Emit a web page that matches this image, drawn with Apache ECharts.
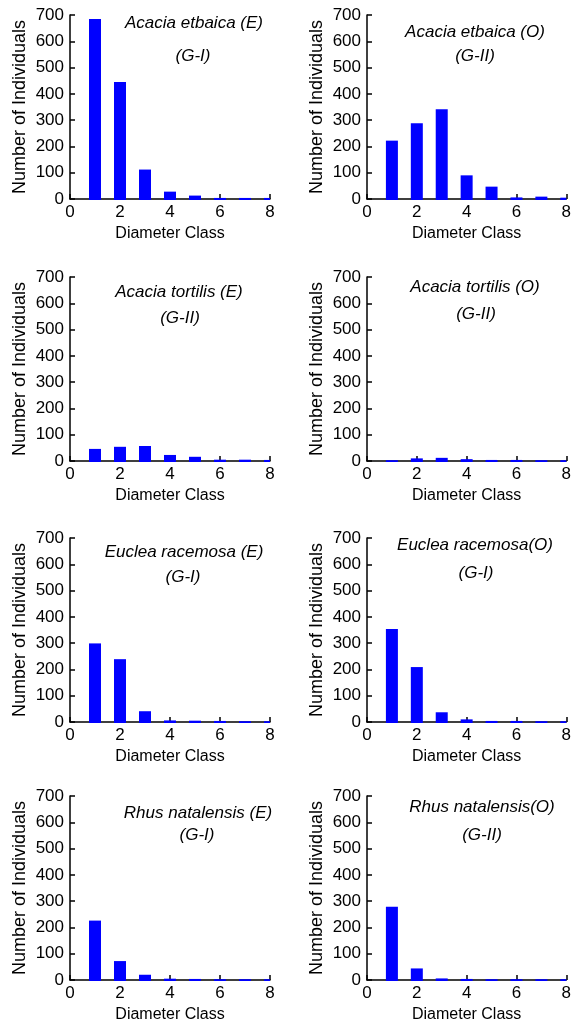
<!DOCTYPE html>
<html>
<head>
<meta charset="utf-8">
<script src="https://cdn.jsdelivr.net/npm/echarts@6/dist/echarts.min.js"></script>
<style>
  html, body { margin: 0; padding: 0; background: #fff; }
  #main { width: 574px; height: 1031px; }
</style>
</head>
<body>
<div id="main"></div>
<script>
// diameter classes (x) and number of individuals per class, one array per panel
var classes = [1, 2, 3, 4, 5, 6, 7, 8];
var etbaicaE = [685, 445, 112, 28, 13, 4, 4, 4];
var etbaicaO = [222, 288, 341, 90, 47, 6, 9, 5];
var tortilisE = [46, 54, 57, 23, 16, 5, 5, 4];
var tortilisO = [3, 10, 12, 7, 4, 4, 3, 3];
var eucleaE = [299, 239, 41, 6, 5, 4, 3, 3];
var eucleaO = [354, 209, 37, 10, 4, 4, 3, 3];
var rhusE = [226, 72, 20, 5, 4, 3, 3, 3];
var rhusO = [279, 44, 6, 4, 3, 3, 3, 3];

var speciesNames = ['Acacia etbaica (E)', 'Acacia etbaica (O)', 'Acacia tortilis (E)', 'Acacia tortilis (O)',
  'Euclea racemosa (E)', 'Euclea racemosa(O)', 'Rhus natalensis (E)', 'Rhus natalensis(O)'];
var groupNames = ['(G-I)', '(G-II)', '(G-II)', '(G-II)', '(G-I)', '(G-I)', '(G-I)', '(G-II)'];
var panelValues = [etbaicaE, etbaicaO, tortilisE, tortilisO, eucleaE, eucleaO, rhusE, rhusO];

var xTicks = [0, 2, 4, 6, 8];
var yMax = 700;

// layout
var colLeft = [70, 367];
var rowTop = [15, 277, 538, 796];
var plotW = 200, plotH = 184;
var barW = 12;
var titlePos = [
  [194, 23, 193, 56], [475, 32, 475, 56],
  [179, 292, 180, 318], [475, 287, 476, 314],
  [184, 552, 183, 577], [475, 545, 476, 573],
  [198, 813, 197, 835], [482, 807, 482, 835]
];

var font = '"Liberation Sans", Arial, sans-serif';
var grids = [], xAxes = [], yAxes = [], series = [], texts = [];

// bars drawn from the axes' scales, clipped to the plot area (class 8 is cut in half)
function renderBar(params, api) {
  var x = api.value(0), y = api.value(1);
  var top = api.coord([x, y]);
  var base = api.coord([x, 0]);
  var cs = params.coordSys;
  var shape = echarts.graphic.clipRectByRect(
    { x: top[0] - barW / 2, y: top[1], width: barW, height: base[1] - top[1] + 1 },
    { x: cs.x, y: cs.y, width: cs.width, height: cs.height + 1 }
  );
  return shape && { type: 'rect', shape: shape, style: { fill: '#0000ff' } };
}

for (var i = 0; i < 8; i++) {
  var c = i % 2, r = Math.floor(i / 2);
  grids.push({ left: colLeft[c], top: rowTop[r], width: plotW, height: plotH });
  xAxes.push({
    gridIndex: i, type: 'value', min: xTicks[0], max: xTicks[xTicks.length - 1], interval: 2,
    name: 'Diameter Class', nameLocation: 'middle', nameGap: 27,
    nameTextStyle: { fontFamily: font, fontSize: 16, color: '#000' },
    axisLine: { show: true, onZero: false, lineStyle: { color: '#000', width: 1.5 } },
    axisTick: { show: true, inside: true, length: 5, lineStyle: { color: '#000', width: 1.5 } },
    axisLabel: { fontFamily: font, fontSize: 17, color: '#000', margin: 5 },
    splitLine: { show: false }
  });
  yAxes.push({
    gridIndex: i, type: 'value', min: 0, max: yMax, interval: 100,
    name: 'Number of Individuals', nameLocation: 'middle', nameRotate: 90, nameGap: 41,
    nameTextStyle: { fontFamily: font, fontSize: 18, color: '#000' },
    axisLine: { show: true, lineStyle: { color: '#000', width: 1.5 } },
    axisTick: { show: true, inside: true, length: 5, lineStyle: { color: '#000', width: 1.5 } },
    axisLabel: { fontFamily: font, fontSize: 17, color: '#000', margin: 6 },
    splitLine: { show: false }
  });
  series.push({
    type: 'custom', xAxisIndex: i, yAxisIndex: i, renderItem: renderBar,
    encode: { x: 0, y: 1 }, z: 1,
    data: classes.map(function (x, k) { return [x, panelValues[i][k]]; })
  });
  var p = titlePos[i];
  texts.push({
    type: 'text', x: p[0], y: p[1],
    style: { text: speciesNames[i], font: 'italic 17px ' + font, fill: '#000', textAlign: 'center', textVerticalAlign: 'middle' }
  });
  texts.push({
    type: 'text', x: p[2], y: p[3],
    style: { text: groupNames[i], font: 'italic 17px ' + font, fill: '#000', textAlign: 'center', textVerticalAlign: 'middle' }
  });
}

var chart = echarts.init(document.getElementById('main'));
chart.setOption({
  animation: false,
  backgroundColor: '#fff',
  grid: grids,
  xAxis: xAxes,
  yAxis: yAxes,
  series: series,
  graphic: texts
});
</script>
</body>
</html>
